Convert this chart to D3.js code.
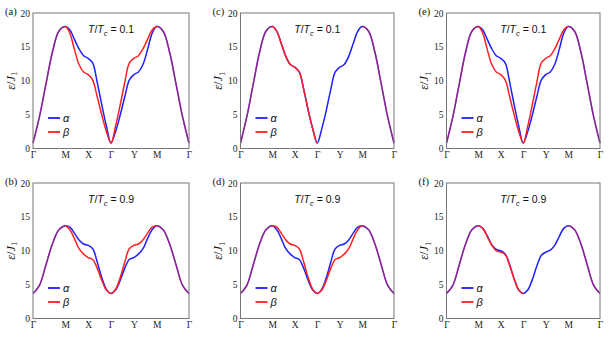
<!DOCTYPE html>
<html>
<head>
<meta charset="utf-8">
<script src="https://cdn.jsdelivr.net/npm/d3@7"></script>
<style>
  body { margin: 0; background: #fff; }
  svg { display: block; }
</style>
</head>
<body>
<div id="chart"></div>
<script>
// k-path: labels and node positions along the path (Γ-M is √2 long)
const kLabels = ["Γ", "M", "X", "Γ", "Y", "M", "Γ"];
const kNodes = [0, 1.414, 2.414, 3.414, 4.414, 5.414, 6.828];
const kFrac = [0, 0.2, 0.4, 0.6, 0.8]; // samples inside each segment
const yTicks = [0, 5, 10, 15, 20];

// T/Tc = 0.1, panels (a) and (e)
const lowAlpha = [
  0.8, 4.7, 9.5, 14.2, 17.3,
  18.0, 17.5, 16.1, 14.7, 13.7,
  13.3, 12.6, 9.7, 6.4, 3.3,
  0.8, 2.5, 4.9, 7.6, 10.1,
  10.9, 11.3, 12.4, 14.6, 17.0,
  18.0, 17.3, 14.2, 9.5, 4.7,
  0.8
];
const lowBeta = [
  0.8, 4.7, 9.5, 14.2, 17.3,
  18.0, 17.0, 14.6, 12.4, 11.3,
  10.9, 10.1, 7.6, 4.9, 2.5,
  0.8, 3.3, 6.4, 9.7, 12.6,
  13.3, 13.7, 14.7, 16.1, 17.5,
  18.0, 17.3, 14.2, 9.5, 4.7,
  0.8
];
// T/Tc = 0.1, panel (c): both bands coincide
const lowSame = [
  0.8, 4.7, 9.5, 14.2, 17.3,
  18.0, 17.3, 15.5, 13.6, 12.4,
  12.0, 11.3, 8.7, 5.6, 2.9,
  0.8, 2.9, 5.6, 8.7, 11.3,
  12.0, 12.4, 13.6, 15.5, 17.3,
  18.0, 17.3, 14.2, 9.5, 4.7,
  0.8
];
// T/Tc = 0.9, panel (b); (d) swaps the two bands
const highAlpha = [
  3.7, 4.9, 7.9, 11.0, 13.1,
  13.7, 13.5, 12.6, 11.6, 11.0,
  10.8, 10.3, 8.3, 6.0, 4.3,
  3.7, 4.2, 5.6, 7.4, 8.7,
  9.0, 9.5, 10.3, 11.8, 13.1,
  13.7, 13.1, 11.0, 7.9, 4.9,
  3.7
];
const highBeta = [
  3.7, 4.9, 7.9, 11.0, 13.1,
  13.7, 13.1, 11.8, 10.3, 9.5,
  9.0, 8.7, 7.4, 5.6, 4.2,
  3.7, 4.3, 6.0, 8.3, 10.3,
  10.8, 11.0, 11.6, 12.6, 13.5,
  13.7, 13.1, 11.0, 7.9, 4.9,
  3.7
];
// T/Tc = 0.9, panel (f)
const fAlpha = [
  3.7, 4.9, 7.9, 11.0, 13.1,
  13.7, 13.3, 12.2, 10.9, 10.2,
  10.0, 9.5, 7.9, 5.8, 4.2,
  3.7, 4.2, 5.7, 7.7, 9.3,
  9.8, 10.1, 10.8, 12.1, 13.3,
  13.7, 13.1, 11.0, 7.9, 4.9,
  3.7
];
const fBeta = [
  3.7, 4.9, 7.9, 11.0, 13.1,
  13.7, 13.3, 12.1, 10.8, 10.0,
  9.8, 9.4, 7.8, 5.8, 4.2,
  3.7, 4.2, 5.8, 7.9, 9.5,
  10.0, 10.2, 10.9, 12.2, 13.3,
  13.7, 13.1, 11.0, 7.9, 4.9,
  3.7
];

const blue = "#1f1fff";
const red = "#ff1f1f";

// which band shows on top in each segment: mix = purple overlap
const panels = [
  { tag: "(a)", col: 0, row: 0, t: "0.1", alpha: lowAlpha, beta: lowBeta, modes: ["mix", "red", "red", "red", "red", "mix"] },
  { tag: "(b)", col: 0, row: 1, t: "0.9", alpha: highAlpha, beta: highBeta, modes: ["mix", "red", "red", "red", "red", "mix"] },
  { tag: "(c)", col: 1, row: 0, t: "0.1", alpha: lowSame, beta: lowSame, modes: ["mix", "red", "red", "blue", "blue", "mix"] },
  { tag: "(d)", col: 1, row: 1, t: "0.9", alpha: highBeta, beta: highAlpha, modes: ["mix", "red", "red", "red", "red", "mix"] },
  { tag: "(e)", col: 2, row: 0, t: "0.1", alpha: lowAlpha, beta: lowBeta, modes: ["mix", "red", "red", "red", "red", "mix"] },
  { tag: "(f)", col: 2, row: 1, t: "0.9", alpha: fAlpha, beta: fBeta, modes: ["mix", "red", "red", "blue", "blue", "mix"] }
];

const colLeft = [33, 240.5, 446.5];
const colWidth = [156, 153.5, 153.5];
const rowTop = [13, 183];
const plotH = 135.5;

const svg = d3.select("#chart")
  .append("svg")
  .attr("width", 615)
  .attr("height", 338);

const defs = svg.append("defs");

// sample positions along the path
const kx = [];
for (let s = 0; s < kNodes.length - 1; s++) {
  kFrac.forEach(f => kx.push(kNodes[s] + f * (kNodes[s + 1] - kNodes[s])));
}
kx.push(kNodes[kNodes.length - 1]);

const opacityFor = { mix: 0.5, red: 1, blue: 0 };

panels.forEach((p, i) => {
  const w = colWidth[p.col];
  const g = svg.append("g")
    .attr("transform", `translate(${colLeft[p.col]},${rowTop[p.row]})`);

  const x = d3.scaleLinear().domain([0, kNodes[kNodes.length - 1]]).range([0, w]);
  const y = d3.scaleLinear().domain([0, 20]).range([plotH, 0]);

  g.append("g")
    .attr("transform", `translate(0,${plotH})`)
    .call(d3.axisBottom(x).tickValues(kNodes).tickFormat((d, j) => kLabels[j]).tickSize(0).tickPadding(3))
    .call(a => a.select(".domain").remove())
    .selectAll("text")
    .attr("font-family", "Liberation Serif, serif")
    .attr("font-size", 9.5)
    .attr("fill", "#222");

  g.append("g")
    .call(d3.axisLeft(y).tickValues(yTicks).tickSize(0).tickPadding(3))
    .call(a => a.select(".domain").remove())
    .selectAll("text")
    .attr("font-family", "Liberation Serif, serif")
    .attr("font-size", 9.5)
    .attr("fill", "#222");

  // gradient that sets how much of the red band covers the blue one
  const grad = defs.append("linearGradient")
    .attr("id", "beta" + i)
    .attr("gradientUnits", "userSpaceOnUse")
    .attr("x1", 0).attr("x2", w).attr("y1", 0).attr("y2", 0);
  p.modes.forEach((m, s) => {
    [kNodes[s], kNodes[s + 1]].forEach(k => {
      grad.append("stop")
        .attr("offset", x(k) / w)
        .attr("stop-color", red)
        .attr("stop-opacity", opacityFor[m]);
    });
  });

  const line = d3.line()
    .x((d, j) => x(kx[j]))
    .y(d => y(d))
    .curve(d3.curveCatmullRom.alpha(0.5));

  g.append("path")
    .datum(p.alpha)
    .attr("d", line)
    .attr("fill", "none")
    .attr("stroke", blue)
    .attr("stroke-width", 1.5);

  g.append("path")
    .datum(p.beta)
    .attr("d", line)
    .attr("fill", "none")
    .attr("stroke", `url(#beta${i})`)
    .attr("stroke-width", 1.5);

  g.append("rect")
    .attr("width", w)
    .attr("height", plotH)
    .attr("fill", "none")
    .attr("stroke", "#777")
    .attr("stroke-width", 1);

  // title
  const title = g.append("text")
    .attr("x", w / 2)
    .attr("y", 20)
    .attr("text-anchor", "middle")
    .attr("font-family", "Liberation Sans, Arial, sans-serif")
    .attr("font-size", 10.5)
    .attr("fill", "#111");
  title.append("tspan").attr("font-style", "italic").text("T");
  title.append("tspan").text("/");
  title.append("tspan").attr("font-style", "italic").text("T");
  title.append("tspan").attr("font-style", "italic").attr("font-size", 7.5).attr("dy", 2.5).text("c");
  title.append("tspan").attr("dy", -2.5).text(" = " + p.t);

  // legend
  [["α", blue, 105], ["β", red, 119]].forEach(([name, c, ly]) => {
    g.append("line")
      .attr("x1", 15).attr("x2", 27)
      .attr("y1", ly).attr("y2", ly)
      .attr("stroke", c)
      .attr("stroke-width", 1.8);
    g.append("text")
      .attr("x", 30)
      .attr("y", ly + 3.5)
      .attr("font-family", "Liberation Sans, Arial, sans-serif")
      .attr("font-style", "italic")
      .attr("font-size", 11)
      .attr("fill", "#111")
      .text(name);
  });

  // y label
  const yl = g.append("text")
    .attr("transform", `translate(-18.5,${plotH / 2}) rotate(-90)`)
    .attr("text-anchor", "middle")
    .attr("font-family", "Liberation Serif, serif")
    .attr("font-size", 12.5)
    .attr("fill", "#111");
  yl.append("tspan").attr("font-style", "italic").text("ε");
  yl.append("tspan").text("/");
  yl.append("tspan").attr("font-style", "italic").text("J");
  yl.append("tspan").attr("font-size", 8.5).attr("dy", 2.5).text("1");

  // panel tag
  g.append("text")
    .attr("x", -28)
    .attr("y", 2)
    .attr("font-family", "Liberation Serif, serif")
    .attr("font-size", 10.5)
    .attr("fill", "#111")
    .text(p.tag);
});
</script>
</body>
</html>
